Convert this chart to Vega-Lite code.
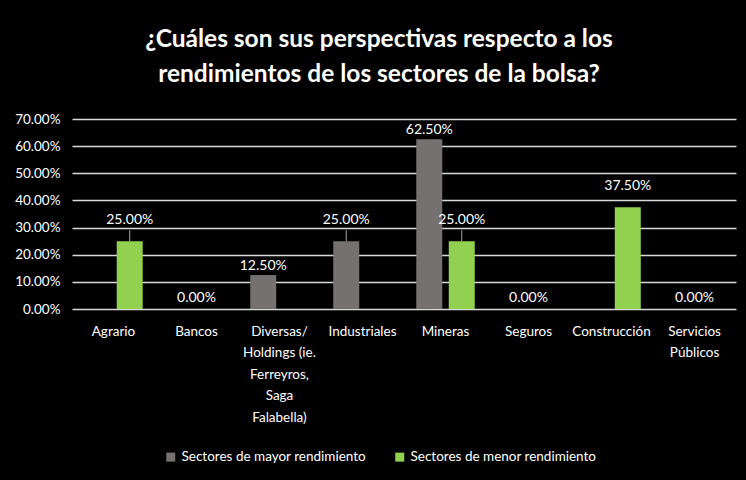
{
  "$schema": "https://vega.github.io/schema/vega-lite/v6.json",
  "width": 664,
  "height": 190,
  "autosize": {"type": "none"},
  "padding": {"left": 72, "top": 119, "right": 10, "bottom": 171},
  "background": "#000000",
  "config": {
    "view": {"stroke": null},
    "font": "Lato",
    "axis": {"labelFont": "Lato", "labelColor": "#FFFFFF", "labelFontSize": 13.5},
    "legend": {"labelFont": "Lato"}
  },
  "title": {
    "text": ["¿Cuáles son sus perspectivas respecto a los", "rendimientos de los sectores de la bolsa?"],
    "font": "Lato",
    "fontSize": 24.5,
    "fontWeight": "bold",
    "color": "#FFFFFF",
    "lineHeight": 35,
    "anchor": "middle",
    "frame": "group",
    "dx": -25,
    "offset": 25
  },
  "data": {
    "values": [
      {"categoria": "Agrario", "serie": "Sectores de menor rendimiento", "valor": 0.25},
      {"categoria": "Bancos", "serie": "Sectores de mayor rendimiento", "valor": 0},
      {"categoria": "Diversas/ Holdings (ie. Ferreyros, Saga Falabella)", "serie": "Sectores de mayor rendimiento", "valor": 0.125},
      {"categoria": "Industriales", "serie": "Sectores de mayor rendimiento", "valor": 0.25},
      {"categoria": "Mineras", "serie": "Sectores de mayor rendimiento", "valor": 0.625},
      {"categoria": "Mineras", "serie": "Sectores de menor rendimiento", "valor": 0.25},
      {"categoria": "Seguros", "serie": "Sectores de mayor rendimiento", "valor": 0},
      {"categoria": "Construcción", "serie": "Sectores de menor rendimiento", "valor": 0.375},
      {"categoria": "Servicios Públicos", "serie": "Sectores de mayor rendimiento", "valor": 0}
    ]
  },
  "encoding": {
    "x": {
      "field": "categoria",
      "type": "nominal",
      "sort": null,
      "scale": {"paddingInner": 0.217, "paddingOuter": 0.108},
      "axis": {
        "title": null,
        "labelAngle": 0,
        "domain": false,
        "ticks": false,
        "labelPadding": 15,
        "labelBaseline": "top",
        "labelLineHeight": 21.5,
        "labelLimit": 200,
        "labelExpr": "datum.label == 'Diversas/ Holdings (ie. Ferreyros, Saga Falabella)' ? ['Diversas/', 'Holdings (ie.', 'Ferreyros,', 'Saga', 'Falabella)'] : datum.label == 'Servicios Públicos' ? ['Servicios', 'Públicos'] : datum.label"
      }
    },
    "y": {
      "field": "valor",
      "type": "quantitative",
      "scale": {"domain": [0, 0.7]},
      "axis": {
        "title": null,
        "values": [0, 0.1, 0.2, 0.3, 0.4, 0.5, 0.6, 0.7],
        "format": ".2%",
        "grid": true,
        "gridColor": "#D9D9D9",
        "gridWidth": 1.5,
        "domain": false,
        "ticks": false,
        "labelPadding": 12
      }
    }
  },
  "layer": [
    {
      "mark": {"type": "bar"},
      "encoding": {
        "xOffset": {
          "field": "serie",
          "type": "nominal",
          "sort": ["Sectores de mayor rendimiento", "Sectores de menor rendimiento"],
          "scale": {"paddingInner": 0.2, "paddingOuter": 0.1}
        },
        "color": {
          "field": "serie",
          "type": "nominal",
          "scale": {
            "domain": ["Sectores de mayor rendimiento", "Sectores de menor rendimiento"],
            "range": ["#767171", "#92D050"]
          },
          "legend": {
            "title": null,
            "orient": "none",
            "legendX": 92,
            "legendY": 331,
            "direction": "horizontal",
            "symbolType": "square",
            "symbolSize": 81,
            "symbolStrokeWidth": 0,
            "labelColor": "#FFFFFF",
            "labelFontSize": 13.5,
            "labelOffset": 4,
            "labelLimit": 400,
            "columnPadding": 27
          }
        }
      }
    },
    {
      "transform": [{"filter": "datum.valor == 0.25"}],
      "mark": {"type": "rule", "color": "#A6A6A6", "strokeWidth": 1, "y2Offset": -11},
      "encoding": {
        "xOffset": {"field": "serie", "type": "nominal", "sort": ["Sectores de mayor rendimiento", "Sectores de menor rendimiento"]},
        "y2": {"field": "valor"}
      }
    },
    {
      "transform": [{"filter": "datum.valor > 0 && (datum.valor < 0.2 || datum.valor > 0.5)"}],
      "mark": {"type": "text", "color": "#FFFFFF", "fontSize": 14, "baseline": "middle", "dy": -9},
      "encoding": {
        "xOffset": {"field": "serie", "type": "nominal", "sort": ["Sectores de mayor rendimiento", "Sectores de menor rendimiento"]},
        "text": {"field": "valor", "type": "quantitative", "format": ".2%"}
      }
    },
    {
      "transform": [{"filter": "datum.valor >= 0.2 && datum.valor <= 0.5"}],
      "mark": {"type": "text", "color": "#FFFFFF", "fontSize": 14, "baseline": "middle", "dy": -21},
      "encoding": {
        "xOffset": {"field": "serie", "type": "nominal", "sort": ["Sectores de mayor rendimiento", "Sectores de menor rendimiento"]},
        "text": {"field": "valor", "type": "quantitative", "format": ".2%"}
      }
    },
    {
      "transform": [{"filter": "datum.valor == 0"}],
      "mark": {"type": "text", "color": "#FFFFFF", "fontSize": 14, "baseline": "middle", "dy": -11},
      "encoding": {
        "text": {"field": "valor", "type": "quantitative", "format": ".2%"}
      }
    }
  ]
}
